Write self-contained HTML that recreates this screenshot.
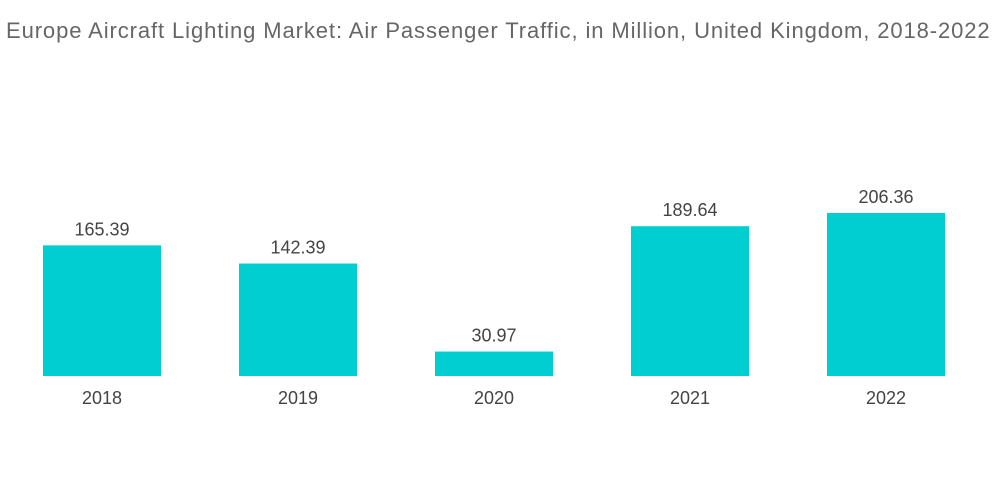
<!DOCTYPE html>
<html><head><meta charset="utf-8"><style>
body{margin:0;width:1000px;height:504px;background:#fff;font-family:"Liberation Sans",sans-serif;overflow:hidden}
#title{position:absolute;left:6px;top:18px;font-size:22px;color:#666;white-space:nowrap;letter-spacing:0.9px}
svg{position:absolute;left:0;top:0}
</style></head><body>
<div id="title">Europe Aircraft Lighting Market: Air Passenger Traffic, in Million, United Kingdom, 2018-2022</div>
<svg id="chart" width="1000" height="504"></svg>
<script>
const categories=["2018","2019","2020","2021","2022"];
const values=[165.39,142.39,30.97,189.64,206.36];
const labels=["165.39","142.39","30.97","189.64","206.36"];
const svg=document.getElementById('chart');
const NS='http://www.w3.org/2000/svg';
const base=376, scale=163/206.36;
const y=v=>base-v*scale;
const x=i=>43+i*196;
const bw=118;
categories.forEach((c,i)=>{
  const r=document.createElementNS(NS,'rect');
  r.setAttribute('x',x(i));r.setAttribute('y',y(values[i]));
  r.setAttribute('width',bw);r.setAttribute('height',base-y(values[i]));
  r.setAttribute('fill','#00ced1');
  
  
  svg.appendChild(r);
  const t=document.createElementNS(NS,'text');
  t.setAttribute('x',x(i)+bw/2);t.setAttribute('y',y(values[i])-10);
  t.setAttribute('text-anchor','middle');t.setAttribute('font-size','18');t.setAttribute('fill','#444');
  t.textContent=labels[i];
  
  
  svg.appendChild(t);
  const a=document.createElementNS(NS,'text');
  a.setAttribute('x',x(i)+bw/2);a.setAttribute('y',404);
  a.setAttribute('text-anchor','middle');a.setAttribute('font-size','18');a.setAttribute('fill','#444');
  a.textContent=c;
  
  
  svg.appendChild(a);
});
</script>
</body></html>
